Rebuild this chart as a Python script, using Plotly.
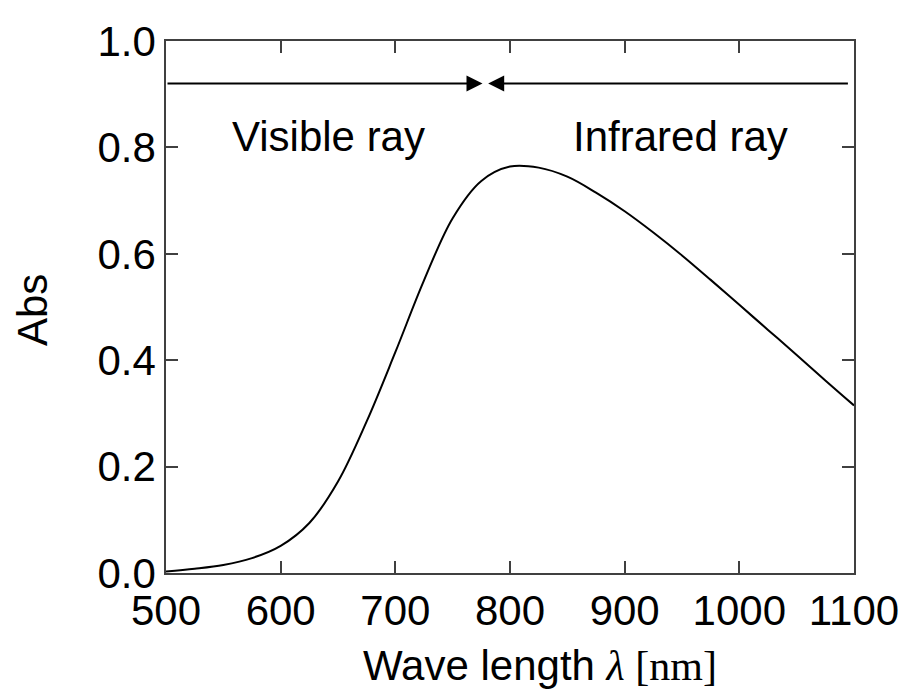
import plotly.graph_objects as go

# Data
wavelength = [500, 525, 550, 575, 600, 625, 650, 675, 700, 725, 750, 775, 800, 825,
              850, 875, 900, 925, 950, 975, 1000, 1025, 1050, 1075, 1100]
absorbance = [0.003, 0.008, 0.015, 0.028, 0.051, 0.094, 0.172, 0.285, 0.415, 0.55, 0.667, 0.737,
              0.764, 0.762, 0.745, 0.715, 0.68, 0.64, 0.597, 0.551, 0.504, 0.457,
              0.41, 0.362, 0.315]

x_ticks = [500, 600, 700, 800, 900, 1000, 1100]
y_ticks = [0.0, 0.2, 0.4, 0.6, 0.8, 1.0]

region_labels = ["Visible ray", "Infrared ray"]
region_label_x = [642, 949]
region_label_y = 0.82
arrow_y = 0.92
visible_span = [500, 776]
infrared_span = [1096, 781]

x_title = "Wave length <span style='font-family:\"Times New Roman\", \"Liberation Serif\", serif'><i>λ</i> [nm]</span>"
y_title = "Abs"

FONT = "Arial, 'Liberation Sans', sans-serif"
AXIS_COLOR = "#404040"

fig = go.Figure()
fig.add_trace(go.Scatter(x=wavelength, y=absorbance, mode="lines",
                         line=dict(color="black", width=2, shape="spline", smoothing=1.0),
                         hoverinfo="skip", showlegend=False))

for txt, xx in zip(region_labels, region_label_x):
    fig.add_annotation(x=xx, y=region_label_y, text=txt, showarrow=False,
                       font=dict(family=FONT, size=42, color="black"),
                       xref="x", yref="y")

for span in (visible_span, infrared_span):
    fig.add_annotation(x=span[1], y=arrow_y, ax=span[0], ay=arrow_y,
                       xref="x", yref="y", axref="x", ayref="y",
                       text="", showarrow=True, arrowhead=2, arrowsize=1.6,
                       arrowwidth=2, arrowcolor="black")

# axis titles as annotations (positioned as in the reference)
fig.add_annotation(x=0.5436, y=-0.126, xref="paper", yref="paper", xanchor="center",
                   yanchor="top", text=x_title, showarrow=False,
                   font=dict(family=FONT, size=42, color="black"))
fig.add_annotation(x=-0.195, y=0.494, xref="paper", yref="paper", xanchor="center",
                   yanchor="middle", text=y_title, textangle=-90, showarrow=False,
                   font=dict(family=FONT, size=42, color="black"))

fig.update_layout(
    width=915, height=697,
    margin=dict(l=158, r=69, t=33, b=132, autoexpand=False),
    paper_bgcolor="white", plot_bgcolor="white",
    font=dict(family=FONT, size=42, color="black"),
    showlegend=False,
)
fig.update_xaxes(range=[500, 1100], tickvals=x_ticks, ticktext=[str(v) for v in x_ticks],
                 ticks="inside", ticklen=12, tickwidth=1.5, tickcolor=AXIS_COLOR,
                 showline=True, linecolor=AXIS_COLOR, linewidth=1.5, mirror="ticks",
                 showgrid=False, zeroline=False, automargin=False,
                 tickfont=dict(family=FONT, size=42))
fig.update_yaxes(range=[0, 1.0], tickvals=y_ticks, ticktext=[f"{v:.1f}" for v in y_ticks],
                 ticks="inside", ticklen=12, tickwidth=1.5, tickcolor=AXIS_COLOR,
                 showline=True, linecolor=AXIS_COLOR, linewidth=1.5, mirror="ticks",
                 showgrid=False, zeroline=False, automargin=False,
                 tickfont=dict(family=FONT, size=42))

fig.write_html("out.html")
